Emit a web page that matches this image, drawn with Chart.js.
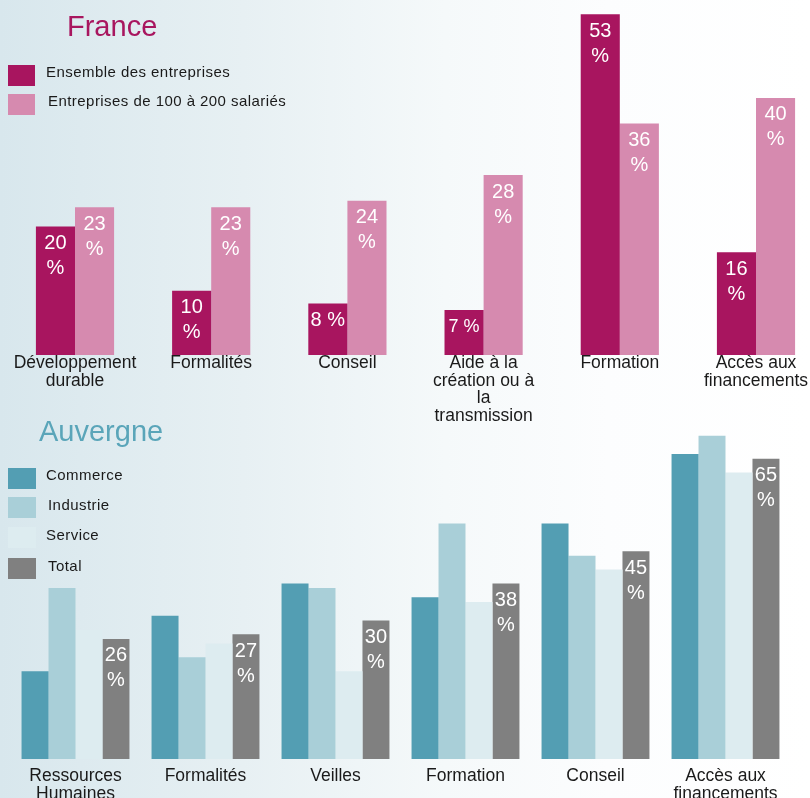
<!DOCTYPE html>
<html>
<head>
<meta charset="utf-8">
<script src="https://cdn.jsdelivr.net/npm/chart.js@4"></script>
<style>
  html, body { margin:0; padding:0; width:810px; height:798px; overflow:hidden; }
  body { background: linear-gradient(90deg, #d8e7ed 0%, #e7f0f3 30%, #f5f9fa 55%, #fcfdfe 75%, #ffffff 100%); position:relative; font-family:"Liberation Sans", Arial, sans-serif; }
  canvas { position:absolute; left:0; }
  #frCanvas { top:0; }
  #auvCanvas { top:420px; }
  .title { position:absolute; font-size:29px; line-height:29px; white-space:nowrap; }
  .lg-box { position:absolute; width:27px; height:21px; }
  .lg-text { position:absolute; font-size:15px; line-height:15px; letter-spacing:0.45px; color:#1a1a1a; white-space:nowrap; }
</style>
</head>
<body>
<canvas id="frCanvas" width="810" height="430"></canvas>
<canvas id="auvCanvas" width="810" height="378"></canvas>
<div id="overlay"></div>
<script>
// ---- Data ----
const frTitle = "France";
const frCategories = [["Développement","durable"],"Formalités","Conseil",["Aide à la","création ou à","la","transmission"],"Formation",["Accès aux","financements"]];
const frSeriesNames = ["Ensemble des entreprises","Entreprises de 100 à 200 salariés"];
const frEnsemble = [20,10,8,7,53,16];
const frPME = [23,23,24,28,36,40];

const auvTitle = "Auvergne";
const auvCategories = [["Ressources","Humaines"],"Formalités","Veilles","Formation","Conseil",["Accès aux","financements"]];
const auvSeriesNames = ["Commerce","Industrie","Service","Total"];
const auvCommerce = [19,31,38,35,51,66];
const auvIndustrie = [37,22,37,51,44,70];
const auvService = [28,25,19,34,41,62];
const auvTotal = [26,27,30,38,45,65];

// ---- Styles ----
const FONT = '"Liberation Sans", Arial, sans-serif';
const frColors = ["#a8155f","#d68aaf"];
const auvColors = ["#539eb3","#a9cfd8","#ddecf0","#808080"];

const valueLabels = {
  id: 'valueLabels',
  afterDatasetsDraw(chart) {
    const ctx = chart.ctx;
    chart.data.datasets.forEach((ds, di) => {
      if (!ds.showValues) return;
      const meta = chart.getDatasetMeta(di);
      meta.data.forEach((bar, i) => {
        const v = ds.data[i];
        const h = bar.base - bar.y;
        const lines = h < 60 ? [v + ' %'] : [String(v), '%'];
        const size = h < 50 ? 18 : 20;
        ctx.save();
        ctx.fillStyle = '#ffffff';
        ctx.font = size + 'px ' + FONT;
        ctx.textAlign = 'center';
        ctx.textBaseline = 'middle';
        lines.forEach((t, li) => ctx.fillText(t, bar.x, bar.y + 17 + li * 25));
        ctx.restore();
      });
    });
  }
};

function makeOptions(pad, yMax, axisH, tickPad) {
  return {
    responsive: false,
    animation: false,
    devicePixelRatio: 1,
    layout: { padding: pad },
    plugins: { legend: { display: false }, title: { display: false }, tooltip: { enabled: false } },
    scales: {
      x: {
        offset: false,
        grid: { display: false, drawTicks: false },
        border: { display: false },
        ticks: {
          autoSkip: false, maxRotation: 0, minRotation: 0, padding: tickPad,
          color: '#1a1a1a', font: { family: FONT, size: 17.5, lineHeight: 1 }
        },
        afterFit(scale) { scale.height = axisH; }
      },
      y: { display: false, min: 0, max: yMax, beginAtZero: true }
    }
  };
}

const barStyle = { borderWidth: 0, barPercentage: 1.0, clip: false };

new Chart(document.getElementById('frCanvas'), {
  type: 'bar',
  data: {
    labels: frCategories,
    datasets: [
      Object.assign({ label: frSeriesNames[0], data: frEnsemble, backgroundColor: frColors[0], categoryPercentage: 0.574, showValues: true }, barStyle),
      Object.assign({ label: frSeriesNames[1], data: frPME, backgroundColor: frColors[1], categoryPercentage: 0.574, showValues: true }, barStyle)
    ]
  },
  options: makeOptions({ left: 75, right: 54, top: 1.5, bottom: 0 }, 55, 75, -0.5),
  plugins: [valueLabels]
});

new Chart(document.getElementById('auvCanvas'), {
  type: 'bar',
  data: {
    labels: auvCategories,
    datasets: [
      Object.assign({ label: auvSeriesNames[0], data: auvCommerce, backgroundColor: auvColors[0], categoryPercentage: 0.83 }, barStyle),
      Object.assign({ label: auvSeriesNames[1], data: auvIndustrie, backgroundColor: auvColors[1], categoryPercentage: 0.83 }, barStyle),
      Object.assign({ label: auvSeriesNames[2], data: auvService, backgroundColor: auvColors[2], categoryPercentage: 0.83 }, barStyle),
      Object.assign({ label: auvSeriesNames[3], data: auvTotal, backgroundColor: auvColors[3], categoryPercentage: 0.83, showValues: true }, barStyle)
    ]
  },
  options: makeOptions({ left: 75.5, right: 84.5, top: 6.4, bottom: 0 }, 72, 39, 8.5),
  plugins: [valueLabels]
});

// ---- Titles & legends (HTML text) ----
const overlay = document.getElementById('overlay');
function addEl(cls, css, text) {
  const d = document.createElement('div');
  d.className = cls;
  Object.assign(d.style, css);
  if (text !== undefined) d.textContent = text;
  overlay.appendChild(d);
}
addEl('title', { left: '67px', top: '11.5px', color: '#a8165f' }, frTitle);
addEl('title', { left: '39px', top: '417px', color: '#5aa5b9' }, auvTitle);

const frLegendY = [65, 94];
const frTextPos = [[46, 64.3], [48, 93.3]];
frSeriesNames.forEach((n, i) => {
  addEl('lg-box', { left: '8px', top: frLegendY[i] + 'px', background: frColors[i] });
  addEl('lg-text', { left: frTextPos[i][0] + 'px', top: frTextPos[i][1] + 'px' }, n);
});
const auvLegendY = [468, 497, 527, 558];
const auvTextPos = [[46, 466.6], [48, 497.3], [46, 527.3], [48, 558.3]];
auvSeriesNames.forEach((n, i) => {
  addEl('lg-box', { left: '8px', top: auvLegendY[i] + 'px', width: '28px', background: auvColors[i] });
  addEl('lg-text', { left: auvTextPos[i][0] + 'px', top: auvTextPos[i][1] + 'px' }, n);
});
</script>
</body>
</html>
